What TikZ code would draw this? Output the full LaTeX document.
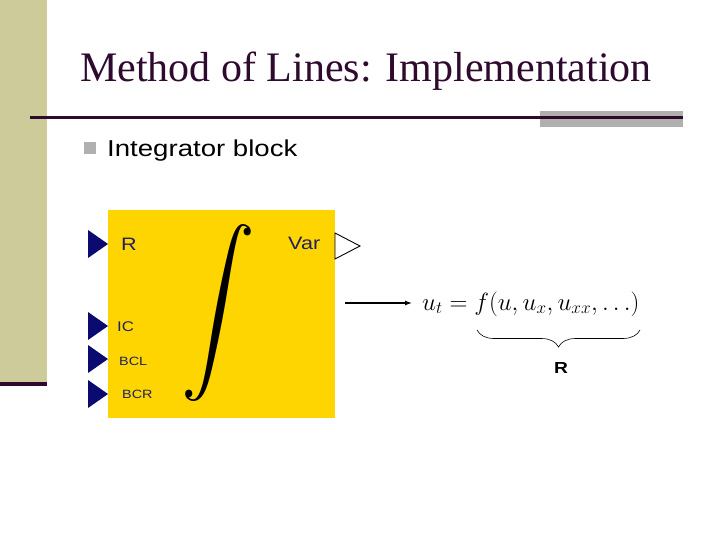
\documentclass[tikz,border=0pt]{standalone}
\usepackage{amsmath,amssymb}
\usepackage{graphicx}
\usepackage{fontspec}
\setmainfont{Liberation Serif}
\newfontfamily\arial[FakeStretch=1.2]{Liberation Sans}
\newfontfamily\arialplain{Liberation Sans}
\usetikzlibrary{positioning,arrows.meta,decorations.pathreplacing}

\definecolor{band}{HTML}{CDCB9A}
\definecolor{plum}{HTML}{2E0A2E}
\definecolor{greybar}{HTML}{B0B0B0}
\definecolor{gold}{HTML}{FFD500}
\definecolor{navy}{HTML}{0A0A70}
\definecolor{navytext}{HTML}{202064}

\begin{document}
\begin{tikzpicture}[x=1pt, y=-1pt,
  lbl/.style={anchor=base west, inner sep=0pt, text=navytext, font=\arial},
  port/.style={fill=navy},
  arr/.style={-{Latex[length=7pt, width=5pt]}, line width=1.2pt}]
\useasboundingbox (0,0) rectangle (720,540);
\fill[white] (0,0) rectangle (720,540);
% slide frame
\fill[band] (0,0) rectangle (47,382);
\fill[plum] (0,382) rectangle (47,386);
\fill[greybar] (540,111) rectangle (683,127);
\fill[plum] (30,116) rectangle (683,119);
\node[anchor=base west, inner sep=0pt, text=plum, font=\fontsize{42}{42}\selectfont] (title) at (80,82) {Method of Lines: Implementation};
\node[fill=greybar, minimum size=12pt, inner sep=0pt] (bullet) at (90,148) {};
\node[anchor=base west, inner sep=0pt, font=\arialplain\fontsize{23}{23}\selectfont] (item) at (107,157) {\scalebox{1.2}[1]{Integrator block}};

% integrator block
\node[fill=gold, minimum width=227pt, minimum height=208pt, inner sep=0pt] (intg) at (221.5,314) {};
\node[inner sep=0pt] (intsign) at (218,313) {\resizebox*{74pt}{177pt}{$\displaystyle\int$}};
\foreach \y in {244,326,359,394}
  \fill[port] (88,\y-14) -- (108,\y) -- (88,\y+14) -- cycle;
\draw[line width=0.9pt] (335,233) -- (360,246) -- (335,259) -- cycle;
\node[lbl, font=\arial\fontsize{18}{18}\selectfont] (pR) at (121,251) {R};
\node[lbl, font=\arial\fontsize{14}{14}\selectfont] (pIC) at (117,331) {IC};
\node[lbl, font=\arial\fontsize{12}{12}\selectfont] (pBCL) at (119,365) {BCL};
\node[lbl, font=\arial\fontsize{12}{12}\selectfont] (pBCR) at (122,398) {BCR};
\node[lbl, font=\arial\fontsize{18}{18}\selectfont] (pVar) at (288,249) {Var};

% equation
\coordinate (src) at (345,303);
\node[anchor=base west, inner sep=0pt, font=\fontsize{24}{24}\selectfont] (eq) at (422,310) {$u_t = f(u, u_x, u_{xx}, \ldots)$};
\draw[arr, shorten >=10pt] (src) -- (eq.west |- src);
\draw[decorate, decoration={brace, amplitude=17pt}, line width=0.6pt] (640,330) -- (477,330);
\node[font=\arial\bfseries\fontsize{16}{16}\selectfont] (rlab) at (561,368) {R};
\end{tikzpicture}
\end{document}
